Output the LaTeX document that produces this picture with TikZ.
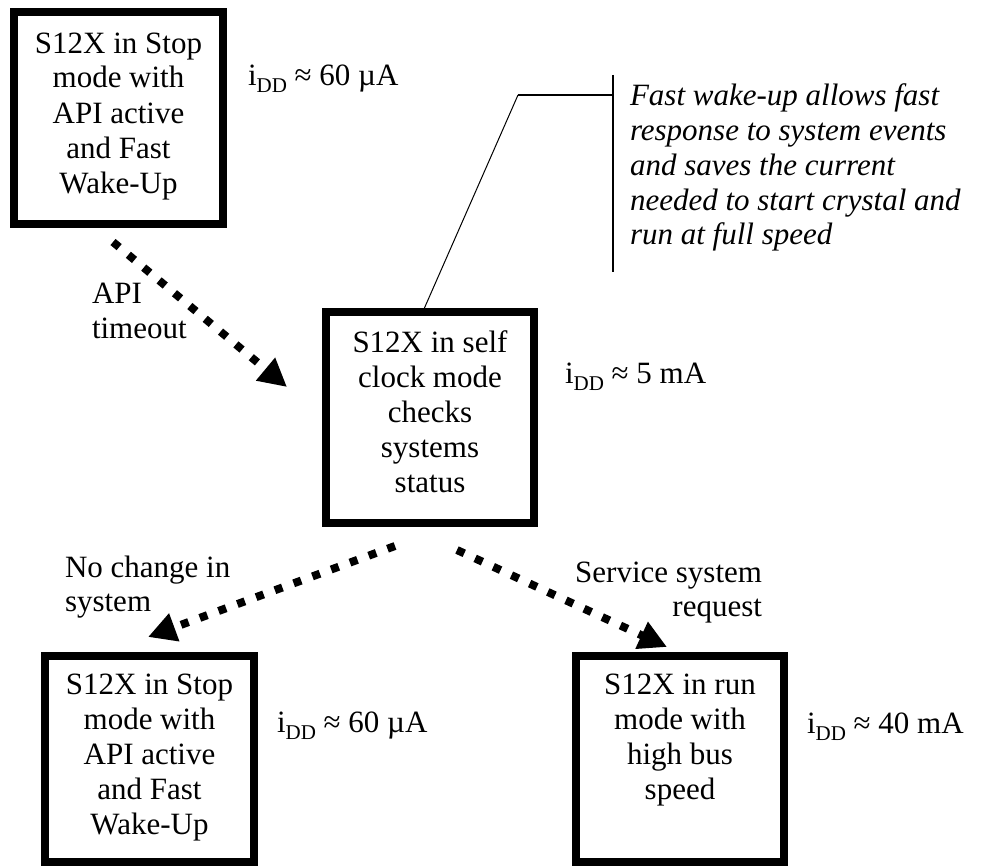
\documentclass[tikz,border=0pt]{standalone}
\usepackage{fontspec}
\setmainfont{Liberation Serif}
\usetikzlibrary{arrows.meta}
\newcommand\bxt[1]{\parbox[c][179pt][t]{205pt}{\centering\fontsize{31}{35}\selectfont\strut #1}}
\newcommand\idd[1]{i\raisebox{-7.5pt}{\fontsize{21}{21}\selectfont DD} ≈ #1}
\begin{document}
\begin{tikzpicture}[x=1pt,y=-1pt,
  box/.style={draw, line width=7.5pt, inner sep=0pt, outer sep=0pt},
  lbl/.style={inner sep=0pt, outer sep=0pt, font=\fontsize{31}{35}\selectfont},
  arr/.style={line width=8pt, dash pattern=on 8pt off 12pt, -{Triangle[length=28pt,width=28pt]}}]
\useasboundingbox (0,0) rectangle (985,867);
% boxes
\node[box, minimum width=209pt, minimum height=212pt] (A) at (118.5,118) {\bxt{S12X in Stop\\mode with\\API active\\and Fast\\Wake-Up}};
\node[box, minimum width=208pt, minimum height=211pt] (B) at (430,417.5) {\bxt{S12X in self\\clock mode\\checks\\systems\\status}};
\node[box, minimum width=209pt, minimum height=206pt] (C) at (149.5,759) {\bxt{S12X in Stop\\mode with\\API active\\and Fast\\Wake-Up}};
\node[box, minimum width=208pt, minimum height=206pt] (D) at (680,759) {\bxt{S12X in run\\mode with\\high bus\\speed}};
% current labels
\node[lbl, anchor=base west] (iA) at (248,85) {\idd{60 µA}};
\node[lbl, anchor=base west] (iB) at (565,383) {\idd{5 mA}};
\node[lbl, anchor=base west] (iC) at (277,732) {\idd{60 µA}};
\node[lbl, anchor=base west] (iD) at (807,733) {\idd{40 mA}};
% transition labels
\node[lbl, anchor=north west, align=left] (tA) at (92,278.5) {\strut API\\timeout};
\node[lbl, anchor=north west, align=left, font=\fontsize{31}{34}\selectfont] (tC) at (65,554) {\strut No change in\\system};
\node[lbl, anchor=north east, align=right, font=\fontsize{31}{34}\selectfont] (tD) at (762,559) {\strut Service system\\request};
% arrows
\coordinate (a1s) at (113,242); \coordinate (a1e) at (287,387);
\coordinate (a2s) at (395,546); \coordinate (a2e) at (148,637);
\coordinate (a3s) at (457,550); \coordinate (a3e) at (667,647);
\draw[arr] (a1s) -- (a1e);
\draw[arr] (a2s) -- (a2e);
\draw[arr] (a3s) -- (a3e);
% callout
\coordinate (k1) at (424,309); \coordinate (k2) at (518,95); \coordinate (k3) at (613,95);
\coordinate (v1) at (613,75); \coordinate (v2) at (613,272);
\draw[line width=1pt] (k1) -- (k2);
\draw[line width=1.5pt] (k2) -- (k3);
\draw[line width=1.8pt] (v1) -- (v2);
\node[lbl, anchor=north west, align=left, font=\fontsize{31}{34.7}\selectfont\itshape] (note) at (630,81.7)
  {\strut Fast wake-up allows fast\\response to system events\\and saves the current\\needed to start crystal and\\run at full speed};
\end{tikzpicture}
\end{document}
